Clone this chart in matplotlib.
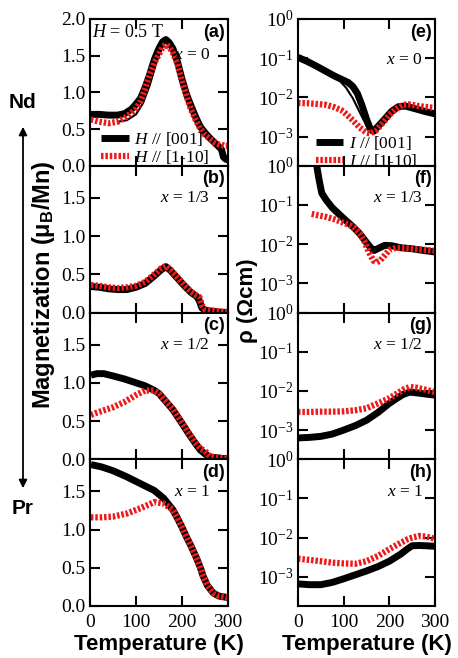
import matplotlib
matplotlib.use("Agg")
import matplotlib.pyplot as plt
from matplotlib.ticker import LogLocator, NullLocator, FormatStrFormatter, MultipleLocator

plt.rcParams['font.family'] = ['Liberation Serif', 'DejaVu Serif']
plt.rcParams['mathtext.fontset'] = 'custom'
plt.rcParams['mathtext.rm'] = 'Liberation Serif'
plt.rcParams['mathtext.it'] = 'Liberation Serif:italic'
plt.rcParams['mathtext.bf'] = 'Liberation Sans:bold'

RED = '#f01818'
SANS = ['Liberation Sans', 'DejaVu Sans']

# ---- magnetization, x = 0 (a)
T_a = [2, 20, 40, 60, 75, 90, 100, 110, 120, 130, 140, 150, 158, 165, 172, 180, 190, 200,
       210, 220, 230, 240, 250, 260, 270, 280, 286, 290, 295, 300]
M001_a = [0.70, 0.70, 0.69, 0.69, 0.71, 0.77, 0.84, 0.92, 1.07, 1.25, 1.45, 1.60, 1.69, 1.72,
          1.68, 1.60, 1.42, 1.18, 0.97, 0.81, 0.66, 0.53, 0.45, 0.38, 0.32, 0.26, 0.22, 0.12, 0.09, 0.08]
M110_a = [0.63, 0.60, 0.58, 0.60, 0.65, 0.72, 0.78, 0.88, 1.05, 1.25, 1.40, 1.52, 1.62, 1.65,
          1.62, 1.54, 1.39, 1.15, 0.95, 0.76, 0.62, 0.50, 0.42, 0.37, 0.32, 0.29, 0.28, 0.28, 0.27, 0.27]
T_a2 = [60, 80, 100, 115, 130, 145, 160, 170]
M001_a2 = [0.60, 0.62, 0.70, 0.85, 1.10, 1.42, 1.66, 1.72]

# ---- x = 1/3 (b)
T_b = [2, 20, 40, 60, 80, 100, 120, 140, 155, 165, 175, 190, 205, 220, 232, 238, 243, 250,
       260, 275, 290, 300]
M001_b = [0.34, 0.33, 0.31, 0.30, 0.30, 0.33, 0.38, 0.48, 0.56, 0.60, 0.55, 0.45, 0.35, 0.26,
          0.21, 0.15, 0.06, 0.03, 0.02, 0.01, 0.0, 0.0]
M110_b = [0.36, 0.35, 0.33, 0.32, 0.33, 0.35, 0.40, 0.50, 0.58, 0.61, 0.56, 0.46, 0.36, 0.27,
          0.22, 0.20, 0.10, 0.04, 0.03, 0.02, 0.01, 0.01]

# ---- x = 1/2 (c)
T_c = [2, 15, 30, 50, 75, 100, 120, 140, 150, 160, 180, 200, 215, 230, 240, 250, 260, 275, 290, 300]
M001_c = [1.10, 1.12, 1.12, 1.09, 1.05, 1.00, 0.96, 0.90, 0.86, 0.79, 0.65, 0.47, 0.33, 0.20,
          0.12, 0.07, 0.03, 0.02, 0.01, 0.01]
M110_c = [0.58, 0.61, 0.64, 0.68, 0.75, 0.84, 0.90, 0.90, 0.86, 0.79, 0.66, 0.48, 0.34, 0.21,
          0.14, 0.11, 0.04, 0.02, 0.01, 0.01]

# ---- x = 1 (d)
T_d = [2, 25, 50, 80, 110, 140, 160, 180, 190, 200, 210, 220, 232, 240, 246, 255, 268, 280, 290, 300]
M001_d = [1.85, 1.82, 1.77, 1.69, 1.60, 1.51, 1.41, 1.26, 1.15, 1.03, 0.90, 0.78, 0.62, 0.50,
          0.39, 0.27, 0.17, 0.13, 0.12, 0.11]
M110_d = [1.16, 1.16, 1.17, 1.21, 1.28, 1.36, 1.34, 1.26, 1.15, 1.03, 0.90, 0.78, 0.62, 0.50,
          0.39, 0.27, 0.17, 0.13, 0.12, 0.11]

# ---- resistivity, x = 0 (e)
T_e = [0, 20, 40, 60, 80, 95, 110, 120, 130, 140, 150, 158, 165, 175, 190, 205, 220, 235, 260, 280, 300]
R001_e = [0.105, 0.083, 0.063, 0.047, 0.035, 0.029, 0.024, 0.019, 0.0126, 0.0063, 0.0028, 0.0016,
          0.00135, 0.0018, 0.0028, 0.0044, 0.0058, 0.0060, 0.0050, 0.0043, 0.0038]
T_e2 = [90, 105, 120, 135, 150, 160]
R001_e2 = [0.0275, 0.0178, 0.0095, 0.0042, 0.0019, 0.00138]
T_e_r = [0, 20, 40, 60, 80, 95, 105, 120, 135, 150, 158, 170, 185, 200, 215, 230, 245, 265, 285, 300]
R110_e = [0.0072, 0.0071, 0.0068, 0.0065, 0.0056, 0.0047, 0.0038, 0.0026, 0.0017, 0.00126, 0.0012,
          0.0014, 0.0022, 0.0036, 0.0051, 0.0065, 0.0066, 0.0060, 0.0056, 0.0054]

# ---- x = 1/3 (f)
T_f = [35, 41, 46, 52, 62, 75, 90, 105, 120, 135, 150, 160, 167, 177, 190, 205, 225, 250, 275, 300]
R001_f = [2.0, 1.0, 0.45, 0.20, 0.132, 0.085, 0.058, 0.040, 0.028, 0.0186, 0.011, 0.0079, 0.0069,
          0.0079, 0.0093, 0.0091, 0.0081, 0.0076, 0.0069, 0.0063]
T_f_r = [30, 45, 60, 80, 100, 115, 125, 135, 145, 155, 165, 172, 180, 190, 200, 215, 235, 260, 280, 300]
R110_f = [0.059, 0.054, 0.050, 0.043, 0.035, 0.030, 0.025, 0.019, 0.012, 0.0063, 0.0038, 0.0034,
          0.0038, 0.0052, 0.0071, 0.0081, 0.0079, 0.0074, 0.0071, 0.0068]

# ---- x = 1/2 (g)
T_g = [0, 25, 50, 75, 100, 125, 150, 175, 200, 215, 230, 245, 260, 280, 300]
R001_g = [6.3e-4, 6.5e-4, 6.9e-4, 7.9e-4, 1.0e-3, 1.29e-3, 1.78e-3, 2.8e-3, 4.8e-3, 6.3e-3,
          8.1e-3, 9.3e-3, 8.9e-3, 8.3e-3, 7.8e-3]
R110_g = [2.9e-3, 2.9e-3, 2.95e-3, 2.95e-3, 3.0e-3, 3.2e-3, 3.6e-3, 4.8e-3, 6.5e-3, 8.3e-3,
          1.07e-2, 1.26e-2, 1.2e-2, 1.07e-2, 9.3e-3]

# ---- x = 1 (h)
T_h = [0, 25, 50, 75, 100, 125, 150, 175, 200, 225, 240, 250, 265, 280, 300]
R001_h = [6.6e-4, 6.3e-4, 6.3e-4, 7.2e-4, 8.9e-4, 1.12e-3, 1.41e-3, 1.82e-3, 2.5e-3, 3.8e-3,
          5.2e-3, 6.2e-3, 6.3e-3, 6.2e-3, 6.0e-3]
R110_h = [2.9e-3, 2.7e-3, 2.5e-3, 2.3e-3, 2.2e-3, 2.15e-3, 2.5e-3, 3.4e-3, 5.1e-3, 7.4e-3,
          9.1e-3, 1.0e-2, 1.1e-2, 1.07e-2, 9.3e-3]

x_labels = ['0', '1/3', '1/2', '1']
left_tags = ['(a)', '(b)', '(c)', '(d)']
right_tags = ['(e)', '(f)', '(g)', '(h)']


def black(ax, t, y, lw=5.0, label=None):
    ax.plot(t, y, color='k', lw=lw, solid_capstyle='butt', solid_joinstyle='round', label=label)


def red(ax, t, y, label=None):
    ln, = ax.plot(t, y, color=RED, lw=4.5, dash_capstyle='butt', label=label)
    ln.set_dashes([0.4, 0.3])


def style(ax, bottom):
    for s in ax.spines.values():
        s.set_linewidth(1.5)
    ax.set_xlim(0, 300)
    ax.set_xticks([0, 100, 200, 300])
    ax.tick_params(direction='in', length=7, width=1.5, top=True, right=True,
                   labelsize=14, pad=3)
    ax.tick_params(axis='x', pad=6, labelbottom=bottom)
    if bottom:
        ax.set_xlabel('Temperature (K)', family=SANS, weight='bold', fontsize=16, labelpad=2)


fig = plt.figure(figsize=(4.58, 6.58), dpi=100)
W, H = 458.0, 658.0
tops = [19, 165.75, 312.5, 459.25]
ph = 146.75

left_axes = []
right_axes = []
for i in range(4):
    b = 1 - (tops[i] + ph) / H
    left_axes.append(fig.add_axes([90 / W, b, 138 / W, ph / H]))
    right_axes.append(fig.add_axes([298 / W, b, 137 / W, ph / H]))

mag = [(T_a, M001_a, M110_a), (T_b, M001_b, M110_b), (T_c, M001_c, M110_c), (T_d, M001_d, M110_d)]
for i, ax in enumerate(left_axes):
    t, m1, m2 = mag[i]
    if i == 0:
        black(ax, t, m1, label=r'$H$ // [001]')
        black(ax, T_a2, M001_a2, lw=1.5)
        red(ax, t, m2, label=r'$H$ // [1-10]')
    else:
        black(ax, t, m1)
        red(ax, t, m2)
    style(ax, i == 3)
    ax.set_ylim(0, 2.0 if i == 0 else 1.92)
    ax.yaxis.set_major_locator(MultipleLocator(0.5))
    ax.yaxis.set_major_formatter(FormatStrFormatter('%.1f'))
    ax.text(0.975, 0.91, left_tags[i], transform=ax.transAxes, ha='right', va='center',
            family=SANS, weight='bold', fontsize=13)
    ax.text(0.87, 0.755 if i == 0 else 0.78, r'$x$ = ' + x_labels[i], transform=ax.transAxes,
            ha='right', va='center', fontsize=12.5)

left_axes[0].text(0.015, 0.91, r'$H$ = 0.5 T', transform=left_axes[0].transAxes,
                  ha='left', va='center', fontsize=13)
left_axes[0].legend(loc='lower left', bbox_to_anchor=(-0.01, -0.085), frameon=False, fontsize=12.5,
                    handlelength=1.6, handletextpad=0.3, labelspacing=0.0, borderpad=0.2)

res = [(T_e, R001_e, T_e_r, R110_e), (T_f, R001_f, T_f_r, R110_f),
       (T_g, R001_g, T_g, R110_g), (T_h, R001_h, T_h, R110_h)]
for i, ax in enumerate(right_axes):
    t1, r1, t2, r2 = res[i]
    if i == 0:
        black(ax, t1, r1, label=r'$I$ // [001]')
        black(ax, T_e2, R001_e2, lw=1.5)
        red(ax, t2, r2, label=r'$I$ // [1-10]')
    else:
        black(ax, t1, r1)
        red(ax, t2, r2)
    ax.set_yscale('log')
    ax.set_ylim(1.8e-4, 1.0)
    ax.yaxis.set_major_locator(LogLocator(base=10, numticks=10))
    ax.yaxis.set_minor_locator(NullLocator())
    style(ax, i == 3)
    ax.text(0.975, 0.91, right_tags[i], transform=ax.transAxes, ha='right', va='center',
            family=SANS, weight='bold', fontsize=13)
    ax.text(0.91, 0.72 if i == 0 else 0.78, r'$x$ = ' + x_labels[i], transform=ax.transAxes,
            ha='right', va='center', fontsize=12.5)

right_axes[0].legend(loc='lower left', bbox_to_anchor=(0.04, -0.11), frameon=False, fontsize=12.5,
                     handlelength=1.6, handletextpad=0.3, labelspacing=0.0, borderpad=0.2)

fig.text(44 / W, 1 - 285 / H, r'Magnetization (μ$_{\mathbf{B}}$/Mn)', rotation=90,
         ha='center', va='center', family=SANS, weight='bold', fontsize=17)
fig.text(248 / W, 1 - 301 / H, 'ρ (Ωcm)', rotation=90, ha='center', va='center',
         family=SANS, weight='bold', fontsize=16)
fig.text(23 / W, 1 - 103 / H, 'Nd', ha='center', va='center', family=SANS, weight='bold', fontsize=15)
fig.text(23 / W, 1 - 508 / H, 'Pr', ha='center', va='center', family=SANS, weight='bold', fontsize=15)
fig.patches.append(matplotlib.patches.FancyArrowPatch(
    (23 / W, 1 - 124 / H), (23 / W, 1 - 491 / H), transform=fig.transFigure,
    arrowstyle='<|-|>', mutation_scale=12, lw=1.3, color='k'))

fig.savefig('out.png', dpi=100)
